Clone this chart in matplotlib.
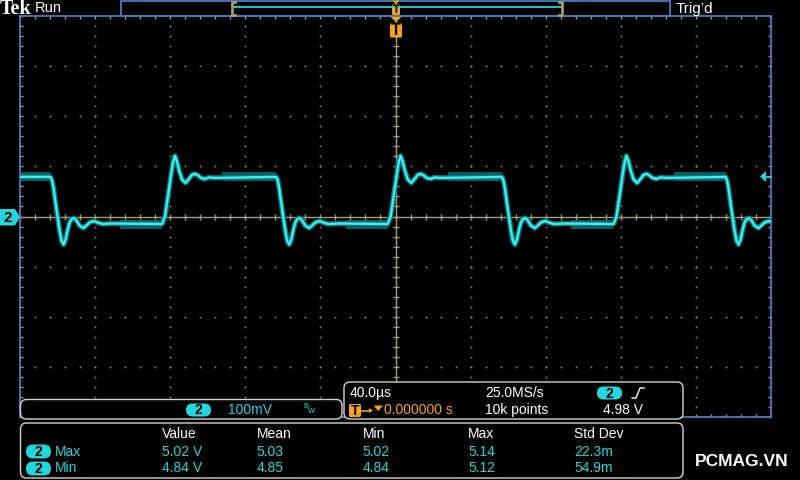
import numpy as np
import matplotlib.pyplot as plt
from matplotlib.patches import FancyBboxPatch, Polygon, Rectangle

plt.rcParams['font.family'] = ['Liberation Sans', 'DejaVu Sans']

# scope settings
t_per_div = 40.0      # us / div
v_per_div = 0.100     # V / div
v_center = 4.90       # V at the centre graticule line
trig_level = 4.98     # V

# centre-line crossings of the edges (us)
rise_edges = [-122.8, -2.6, 117.7]
fall_edges = [-180.0, -59.8, 60.4, 179.5]

# trace shape around each edge: time from crossing (us) and level (V)
rise_dt = [-1.6, -0.8, 0.0, 1.6, 3.2, 4.3, 5.3, 6.4, 7.7, 9.1, 11.0, 12.8,
           14.4, 16.0, 17.6, 19.2, 21.3, 23.4, 26.6]
rise_v = [4.885, 4.892, 4.900, 4.940, 4.982, 5.008, 5.021, 5.010, 4.990, 4.974,
          4.967, 4.975, 4.983, 4.985, 4.982, 4.977, 4.975, 4.978, 4.977]
fall_dt = [-3.7, -2.9, -2.1, -1.1, 0.0, 1.1, 2.1, 3.2, 4.3, 5.3, 6.4, 7.5, 8.8,
           10.1, 11.7, 13.8, 15.4, 17.0, 19.4, 21.3, 24.0, 29.3]
fall_v = [4.979, 4.972, 4.956, 4.928, 4.900, 4.872, 4.852, 4.844, 4.854, 4.872,
          4.888, 4.895, 4.897, 4.892, 4.882, 4.877, 4.882, 4.888, 4.891, 4.888,
          4.885, 4.886]
high_level = 4.979
low_level = 4.885

# measurement table
meas_cols = ['Value', 'Mean', 'Min', 'Max', 'Std Dev']
meas_rows = ['Max', 'Min']
meas_vals = [['5.02 V', '5.03', '5.02', '5.14', '22.3m'],
             ['4.84 V', '4.85', '4.84', '5.12', '54.9m']]

CYAN = '#22d6da'
TRACE = '#3af0f0'
GLOW = '#0f7476'
NOISE = '#0c5a5c'
ORANGE = '#f7a21b'
BLUE = '#4a7cc0'
TAN = '#a89b7a'
FRAME = '#d4d4d4'

fig = plt.figure(figsize=(8, 4.8), dpi=100, facecolor='black')

# ---- graticule ----
ax = fig.add_axes([20 / 800, 1 - 417 / 480, 751 / 800, 401 / 480])
ax.set_facecolor('black')
t_lo, t_hi = -5 * t_per_div, 5 * t_per_div
v_lo, v_hi = v_center - 4 * v_per_div, v_center + 4 * v_per_div
ax.set_xlim(t_lo, t_hi)
ax.set_ylim(v_lo, v_hi)
for s in ax.spines.values():
    s.set_color(BLUE)
    s.set_linewidth(1.3)
t_minor = np.arange(t_lo, t_hi + 0.1, t_per_div / 5)
v_minor = np.arange(v_lo, v_hi + 1e-6, v_per_div / 5)
ax.set_xticks(t_minor)
ax.set_yticks(v_minor)
ax.tick_params(direction='in', length=2.5, width=1, colors=TAN,
               top=True, right=True, labelbottom=False, labelleft=False)

for k in range(-4, 5):
    if k == 0:
        continue
    tx = k * t_per_div
    ax.plot(np.full(len(v_minor), tx), v_minor, ls='none', marker='s',
            ms=1.1, mew=0, color=TAN, zorder=1)
for k in range(-3, 4):
    if k == 0:
        continue
    vy = v_center + k * v_per_div
    ax.plot(t_minor, np.full(len(t_minor), vy), ls='none', marker='s',
            ms=1.1, mew=0, color=TAN, zorder=1)
ax.axhline(v_center, color=TAN, lw=1, zorder=1)
ax.axvline(0, color=TAN, lw=1, zorder=1)
ax.plot(t_minor, np.full(len(t_minor), v_center), ls='none', marker='|',
        ms=4, mew=1, color=TAN, zorder=1)
ax.plot(np.zeros(len(v_minor)), v_minor, ls='none', marker='_',
        ms=5, mew=1, color=TAN, zorder=1)

# ---- trace ----
events = sorted([(t, 'r') for t in rise_edges] + [(t, 'f') for t in fall_edges])
trace_t = [t_lo - 5]
trace_v = [high_level]
for t0, kind in events:
    dts, vs = (rise_dt, rise_v) if kind == 'r' else (fall_dt, fall_v)
    trace_t += [t0 + d for d in dts]
    trace_v += list(vs)

# noise envelope on the flat parts
seg_start, seg_level = t_lo - 5, high_level
for t0, kind in events + [(t_hi + 40, 'end')]:
    if kind == 'r':
        seg_end = t0 + rise_dt[0]
    elif kind == 'f':
        seg_end = t0 + fall_dt[0]
    else:
        seg_end = t_hi + 5
    if seg_end > seg_start:
        ax.fill_between([seg_start + 4, seg_end], seg_level - 0.009, seg_level + 0.009,
                        color=NOISE, lw=0, zorder=2)
    if kind == 'r':
        seg_start, seg_level = t0 + rise_dt[-1], high_level
    elif kind == 'f':
        seg_start, seg_level = t0 + fall_dt[-1], low_level

ax.plot(trace_t, trace_v, color=GLOW, lw=3.8, solid_joinstyle='round', zorder=3)
ax.plot(trace_t, trace_v, color=TRACE, lw=1.7, solid_joinstyle='round', zorder=4)

# ---- screen furniture in pixel coordinates ----
ov = fig.add_axes([0, 0, 1, 1], zorder=10)
ov.set_xlim(0, 800)
ov.set_ylim(480, 0)
ov.axis('off')
ov.patch.set_alpha(0)


def rbox(x0, y0, w, h, r=6):
    ov.add_patch(FancyBboxPatch((x0, y0), w, h, boxstyle=f'round,pad=0,rounding_size={r}',
                                fc='black', ec=FRAME, lw=1))


def pill(xc, yc, label, w=25, h=13):
    ov.add_patch(FancyBboxPatch((xc - w / 2, yc - h / 2), w, h,
                                boxstyle=f'round,pad=0,rounding_size={h / 2}',
                                fc=CYAN, ec='none'))
    ov.text(xc, yc + 0.5, label, color='black', fontsize=10, fontweight='bold',
            ha='center', va='center')


def tbox(x0, y0, w, h, fs):
    ov.add_patch(FancyBboxPatch((x0, y0), w, h, boxstyle='round,pad=0,rounding_size=1.5',
                                fc=ORANGE, ec='none'))
    ov.text(x0 + w / 2, y0 + h / 2 + 0.5, 'T', color='black', fontsize=fs,
            fontweight='bold', ha='center', va='center')


# header
ov.text(-0.5, 8.5, 'Tek', family='Liberation Serif', fontweight='bold', fontsize=14.5,
        color='white', ha='left', va='center')
ov.text(35, 8.5, 'Run', fontsize=10.5, color='white', ha='left', va='center')
ov.text(676, 8.5, 'Trig\u2019d', fontsize=11, color='white', ha='left', va='center')
ov.add_patch(Rectangle((121, 0.7), 549, 15.3, fc='none', ec=BLUE, lw=1.3))
ov.plot([233, 561], [7.3, 7.3], color=CYAN, lw=1.3)
ov.plot([235, 232, 232, 235], [1.5, 1.5, 14.5, 14.5], color=TAN, lw=2)
ov.plot([559, 562, 562, 559], [1.5, 1.5, 14.5, 14.5], color=TAN, lw=2)
ov.add_patch(Polygon([(392.5, 0.5), (399.5, 0.5), (396, 4.5)], fc=ORANGE, ec='none'))
tbox(392, 4.5, 8, 10.5, 8)
ov.add_patch(Polygon([(390.5, 17), (401.5, 17), (396, 22)], fc=ORANGE, ec='none'))
tbox(390, 23, 12, 14.5, 12)

# channel and trigger-level markers
ov.add_patch(Polygon([(0, 209), (15, 209), (20, 217), (15, 225.5), (0, 225.5)],
                     fc=CYAN, ec='none'))
ov.text(8, 217.5, '2', color='black', fontsize=11, fontweight='bold',
        ha='center', va='center')
ov.add_patch(Polygon([(760, 176.5), (766, 171), (766, 182)], fc=CYAN, ec='none'))
ov.plot([766, 771], [176.5, 176.5], color=CYAN, lw=1.3)

# vertical scale box
rbox(20.5, 399.5, 321.5, 19.5)
pill(198.5, 410, '2')
ov.text(228, 410, '100mV', color=CYAN, fontsize=10, ha='left', va='center')
ov.text(303, 406.5, 'B', color=CYAN, fontsize=5.5, ha='left', va='center')
ov.text(307.5, 411.5, 'W', color=CYAN, fontsize=5.5, ha='left', va='center')

# timebase / trigger box
rbox(344, 382, 339, 37)
ov.text(350, 393, '40.0\u00b5s', color='white', fontsize=10, ha='left', va='center')
ov.text(485, 393, '25.0MS/s', color='white', fontsize=10, ha='left', va='center')
pill(609.5, 393, '2')
ov.plot([632, 636, 640, 644], [398, 398, 388, 388], color='white', lw=1)
tbox(349, 404, 12, 13, 10)
ov.plot([362, 370], [410.5, 410.5], color=ORANGE, lw=1.2)
ov.add_patch(Polygon([(369, 408), (373, 410.5), (369, 413)], fc=ORANGE, ec='none'))
ov.add_patch(Polygon([(373.5, 405.5), (383, 405.5), (378.2, 411)], fc=ORANGE, ec='none'))
ov.text(383.5, 410, '0.000000 s', color=ORANGE, fontsize=10, ha='left', va='center')
ov.text(485, 410, '10k points', color='white', fontsize=10, ha='left', va='center')
ov.text(603, 410, f'{trig_level:.2f} V', color='white', fontsize=10,
        ha='left', va='center')

# measurement box
rbox(20.5, 423, 662.5, 55)
col_x = [161.5, 256.5, 362.5, 468, 574.5]
row_y = [451.5, 468.5]
for cx, name in zip(col_x, meas_cols):
    ov.text(cx, 433.5, name, color='white', fontsize=10, ha='left', va='center')
for ry, rname, vals in zip(row_y, meas_rows, meas_vals):
    pill(38.5, ry, '2', w=25, h=14)
    ov.text(55, ry, rname, color=CYAN, fontsize=10, ha='left', va='center')
    for cx, val in zip(col_x, vals):
        ov.text(cx, ry, val, color=CYAN, fontsize=10, ha='left', va='center')

ov.text(695, 461.5, 'PCMAG.VN', color='white', fontsize=12.5, fontweight='bold',
        ha='left', va='center')

fig.savefig('out.png', dpi=100, facecolor='black')
